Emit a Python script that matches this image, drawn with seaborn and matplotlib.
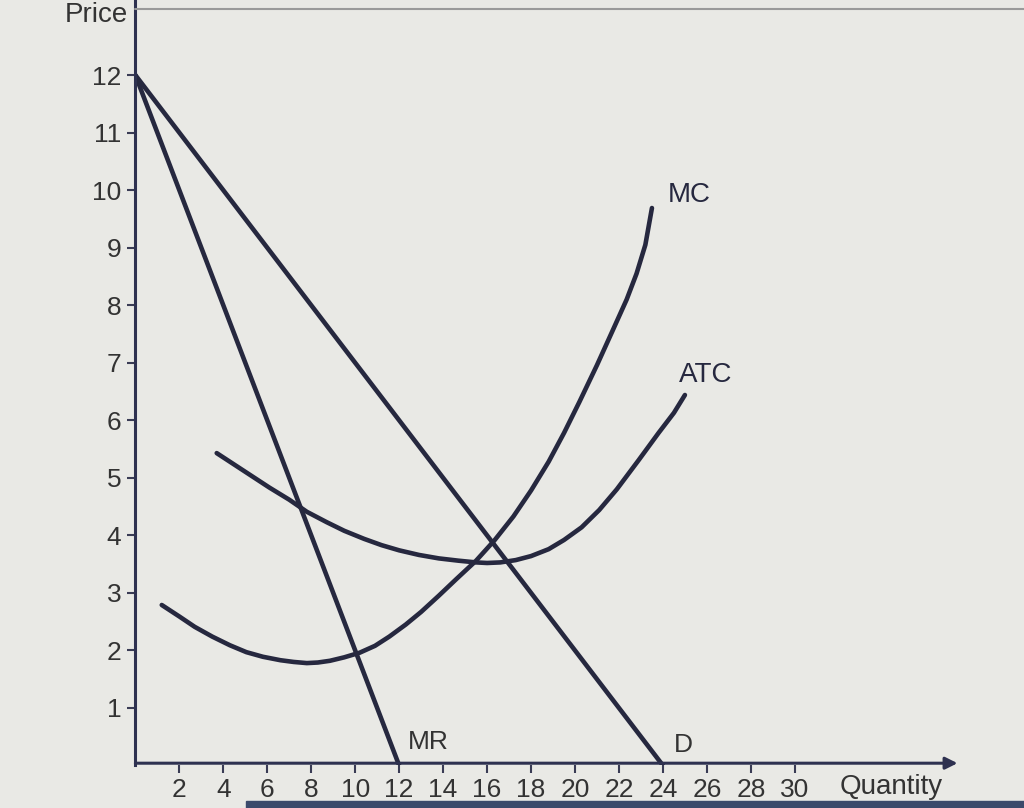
import numpy as np
import pandas as pd
import seaborn as sns
import matplotlib.pyplot as plt
from matplotlib.patches import Rectangle
from matplotlib.lines import Line2D

# ---- data ----
d_q = [0, 24]
d_p = [12, 0]
mr_q = [0, 12]
mr_p = [12, 0]
mc_q = [1.2, 2.0, 2.7, 3.5, 4.3, 5.05, 5.8, 6.6, 7.2, 7.8, 8.3, 8.85, 9.5, 10.2, 10.9, 11.55, 12.3, 13.0, 13.8, 14.6, 15.5, 16.35, 17.2, 18.0, 18.8, 19.5, 20.2, 21.0, 21.7, 22.35, 22.8, 23.2, 23.5]
mc_p = [2.79, 2.59, 2.41, 2.24, 2.09, 1.97, 1.89, 1.83, 1.8, 1.78, 1.79, 1.82, 1.88, 1.96, 2.08, 2.24, 2.45, 2.67, 2.95, 3.24, 3.56, 3.92, 4.33, 4.78, 5.28, 5.78, 6.32, 6.96, 7.55, 8.1, 8.55, 9.05, 9.69]
atc_q = [3.7, 4.5, 5.3, 6.1, 7.0, 7.8, 8.7, 9.5, 10.4, 11.2, 12.0, 12.9, 13.8, 14.7, 15.5, 16.0, 16.6, 17.3, 18.0, 18.8, 19.5, 20.3, 21.1, 21.9, 22.9, 23.8, 24.5, 25.0]
atc_p = [5.43, 5.23, 5.03, 4.83, 4.62, 4.41, 4.23, 4.08, 3.94, 3.83, 3.74, 3.66, 3.6, 3.56, 3.53, 3.52, 3.53, 3.57, 3.64, 3.76, 3.92, 4.14, 4.44, 4.8, 5.31, 5.78, 6.13, 6.44]
x_ticks = [2, 4, 6, 8, 10, 12, 14, 16, 18, 20, 22, 24, 26, 28, 30]
y_ticks = [1, 2, 3, 4, 5, 6, 7, 8, 9, 10, 11, 12]
curve_labels = ["MC", "ATC", "MR", "D"]

sns.set_theme(style="white")
plt.rcParams['font.family'] = ['Liberation Sans', 'DejaVu Sans']

bg = "#e9e9e5"
ink = "#26283f"
txt = "#333333"

fig = plt.figure(figsize=(10.24, 8.08), dpi=100, facecolor=bg)
ax = fig.add_axes([0.1322, 0.0526, 0.805, 0.947])
ax.set_facecolor(bg)

df = pd.concat([
    pd.DataFrame({"q": d_q, "p": d_p, "curve": "D"}),
    pd.DataFrame({"q": mr_q, "p": mr_p, "curve": "MR"}),
    pd.DataFrame({"q": mc_q, "p": mc_p, "curve": "MC"}),
    pd.DataFrame({"q": atc_q, "p": atc_p, "curve": "ATC"}),
])
sns.lineplot(data=df, x="q", y="p", hue="curve", units="curve", estimator=None,
             sort=False, palette={c: ink for c in curve_labels}, linewidth=3.3,
             legend=False, ax=ax, solid_capstyle="round", solid_joinstyle="round")

ax.set_xlim(0, 37.5)
ax.set_ylim(0, 13.3)
ax.set_xticks(x_ticks)
ax.set_yticks(y_ticks)
ax.tick_params(axis="both", which="both", direction="out", length=6, width=1.5,
               color="#3a3c55", labelsize=19, labelcolor=txt, pad=4,
               bottom=True, left=True)
ax.tick_params(axis="x", pad=3)
for s in ["top", "right", "bottom"]:
    ax.spines[s].set_visible(False)
ax.spines["left"].set_color("#2e3150")
ax.spines["left"].set_linewidth(2.2)
ax.set_xlabel("")
ax.set_ylabel("")

# x-axis arrow
ax.annotate("", xy=(37.4, 0.04), xytext=(0, 0.04),
            arrowprops=dict(arrowstyle="-|>", color="#2e3150", lw=2.2,
                            mutation_scale=18, shrinkA=0, shrinkB=0),
            annotation_clip=False)

# curve labels
ax.text(24.2, 9.92, curve_labels[0], fontsize=20, color=ink, ha="left", va="center")
ax.text(24.75, 6.79, curve_labels[1], fontsize=20, color=ink, ha="left", va="center")
ax.text(12.4, 0.4, curve_labels[2], fontsize=19, color=txt, ha="left", va="center")
ax.text(24.5, 0.36, curve_labels[3], fontsize=19, color=txt, ha="left", va="center")

# axis titles
fig.text(0.125, 0.982, "Price", fontsize=20, color=txt, ha="right", va="center")
fig.text(0.870, 0.026, "Quantity", fontsize=20, color=txt, ha="center", va="center")

# screen artefacts: top separator line and bottom bar
fig.add_artist(Line2D([0.1322, 1.0], [0.989, 0.989], color="#9a9a9a", lw=1.5,
                      transform=fig.transFigure))
fig.add_artist(Rectangle((0.24, 0.0), 0.76, 0.009, color="#3b4a6b",
                         transform=fig.transFigure))

fig.savefig("out.png", dpi=100, facecolor=bg)
